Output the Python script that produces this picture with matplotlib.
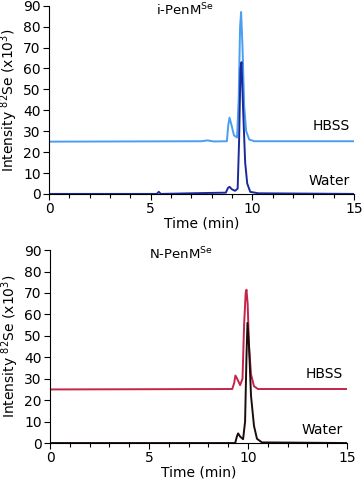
import matplotlib
matplotlib.use('Agg')
import matplotlib.pyplot as plt
from matplotlib.ticker import MultipleLocator

plt.rcParams['font.family'] = 'DejaVu Sans'
plt.rcParams['mathtext.default'] = 'regular'

# i-PenM(Se): HBSS and water traces (time in min, intensity x10^3)
t_i_hbss = [0, 7.5, 7.8, 8.1, 8.75, 8.82, 8.88, 8.95, 9.1, 9.25, 9.33, 9.40, 9.45, 9.52, 9.60, 9.70, 9.85, 10.1, 15]
y_i_hbss = [25, 25.2, 25.6, 25.1, 25.2, 33, 36.5, 34, 28, 27, 45, 80, 87, 70, 42, 30, 26, 25.2, 25.2]
t_i_water = [0, 5.3, 5.4, 5.5, 7.5, 8.7, 8.8, 8.88, 9.0, 9.15, 9.28, 9.35, 9.42, 9.47, 9.55, 9.65, 9.75, 9.9, 10.3, 15]
y_i_water = [0, 0, 1.0, 0, 0.4, 0.6, 2.8, 3.4, 2.2, 1.5, 2.5, 25, 60, 63, 40, 15, 5, 1, 0.3, 0]

# N-PenM(Se)
t_n_hbss = [0, 9.2, 9.3, 9.36, 9.45, 9.6, 9.72, 9.8, 9.88, 9.92, 9.98, 10.05, 10.15, 10.3, 10.5, 15]
y_n_hbss = [25, 25.2, 28, 31.5, 30, 27, 30, 55, 70, 71.5, 65, 45, 32, 26.5, 25.2, 25.2]
t_n_water = [0, 9.35, 9.45, 9.5, 9.6, 9.75, 9.85, 9.92, 9.97, 10.05, 10.15, 10.3, 10.45, 10.7, 15]
y_n_water = [0, 0, 3.5, 4.5, 3, 1.8, 10, 40, 56, 45, 22, 8, 2, 0.3, 0]

panels = [
    ('i-PenM$^{Se}$', t_i_hbss, y_i_hbss, t_i_water, y_i_water, '#4a9ef2', '#1a2a9c',
     [0.135, 0.596, 0.840, 0.392], 6.7),
    ('N-PenM$^{Se}$', t_n_hbss, y_n_hbss, t_n_water, y_n_water, '#c42448', '#1c0c0c',
     [0.138, 0.077, 0.818, 0.402], 6.6),
]

fig = plt.figure(figsize=(3.63, 4.80), dpi=100)

for title, th, yh, tw, yw, ch, cw, pos, tx in panels:
    ax = fig.add_axes(pos)
    ax.plot(th, yh, color=ch, lw=1.4)
    ax.plot(tw, yw, color=cw, lw=1.4)
    ax.set_xlim(0, 15)
    ax.set_ylim(0, 90)
    ax.xaxis.set_major_locator(MultipleLocator(5))
    ax.xaxis.set_minor_locator(MultipleLocator(1))
    ax.yaxis.set_major_locator(MultipleLocator(10))
    for s in ['top', 'right']:
        ax.spines[s].set_visible(False)
    ax.spines['left'].set_linewidth(0.8)
    ax.spines['bottom'].set_linewidth(0.8)
    ax.tick_params(axis='both', which='major', length=4, width=0.8, labelsize=10, pad=2)
    ax.tick_params(axis='x', which='minor', length=3, width=0.8)
    ax.set_xlabel('Time (min)', fontsize=10, labelpad=0)
    ax.set_ylabel('Intensity $^{82}$Se (x10$^{3}$)', fontsize=10, labelpad=2)
    ax.text(tx, 88, title, fontsize=9.5, ha='center', va='center')
    ax.text(14.8, 29, 'HBSS', fontsize=10, ha='right', va='bottom')
    ax.text(14.8, 3, 'Water', fontsize=10, ha='right', va='bottom')

fig.savefig('out.png', dpi=100)
